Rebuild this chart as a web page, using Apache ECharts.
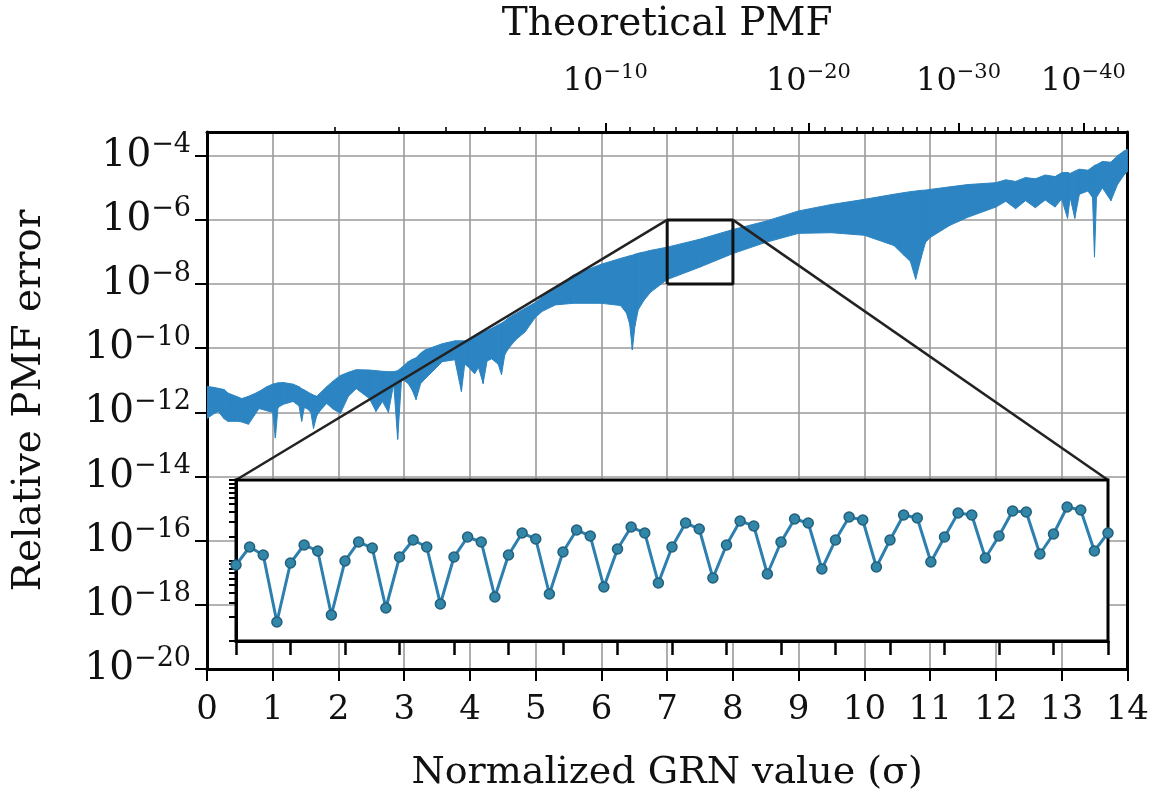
<!DOCTYPE html>
<html><head><meta charset="utf-8">
<script src="https://cdn.jsdelivr.net/npm/echarts@6/dist/echarts.min.js"></script>
<style>html,body{margin:0;padding:0;background:#fff}#c{width:1152px;height:799px}</style>
</head><body><div id="c"></div>
<script>
// ---- data (log10 of relative PMF error) ----
const sigma = [0.00,0.10,0.17,0.26,0.32,0.47,0.53,0.63,0.72,0.79,0.91,1.00,1.04,1.08,1.16,1.31,1.40,1.44,1.48,1.52,1.58,1.62,1.67,1.72,1.82,1.92,2.03,2.15,2.27,2.47,2.57,2.67,2.76,2.84,2.90,2.96,3.06,3.12,3.18,3.25,3.32,3.58,3.77,3.87,3.92,3.97,4.07,4.13,4.20,4.26,4.33,4.43,4.48,4.53,4.59,4.69,4.84,4.99,5.10,5.30,5.57,6.00,6.29,6.38,6.43,6.47,6.51,6.56,6.65,6.75,7.00,7.50,8.00,8.50,9.00,9.50,10.00,10.45,10.60,10.70,10.78,10.86,10.93,11.00,11.30,11.57,12.00,12.15,12.30,12.45,12.60,12.75,12.90,13.00,13.09,13.13,13.20,13.27,13.40,13.47,13.50,13.53,13.62,13.75,13.85,13.95,14.00];
const upperExp = [-11.19,-11.22,-11.25,-11.29,-11.40,-11.52,-11.57,-11.50,-11.42,-11.35,-11.20,-11.12,-11.10,-11.08,-11.07,-11.12,-11.20,-11.26,-11.30,-11.35,-11.42,-11.46,-11.50,-11.40,-11.20,-11.02,-10.85,-10.75,-10.67,-10.68,-10.70,-10.72,-10.73,-10.73,-10.70,-10.60,-10.42,-10.35,-10.30,-10.15,-10.05,-9.86,-9.77,-9.77,-9.77,-9.75,-9.62,-9.56,-9.49,-9.45,-9.38,-9.27,-9.22,-9.15,-9.05,-8.93,-8.75,-8.58,-8.40,-8.15,-7.72,-7.38,-7.20,-7.15,-7.12,-7.10,-7.07,-7.04,-7.00,-6.95,-6.85,-6.60,-6.30,-6.04,-5.72,-5.52,-5.36,-5.20,-5.15,-5.12,-5.10,-5.08,-5.07,-5.05,-4.97,-4.90,-4.84,-4.75,-4.80,-4.68,-4.72,-4.60,-4.65,-4.53,-4.52,-4.55,-4.48,-4.42,-4.45,-4.35,-4.30,-4.28,-4.18,-4.20,-4.00,-3.85,-3.80];
const lowerExp = [-12.19,-12.05,-11.97,-12.20,-12.28,-12.28,-12.30,-12.37,-12.10,-11.88,-11.95,-12.00,-12.80,-11.85,-11.75,-11.66,-11.80,-12.28,-11.85,-11.88,-12.00,-12.50,-12.10,-11.95,-11.72,-11.90,-12.03,-11.50,-11.26,-11.57,-11.97,-11.66,-12.00,-11.10,-12.84,-10.95,-11.10,-11.30,-11.60,-11.10,-10.95,-10.42,-10.36,-11.35,-10.50,-10.57,-10.80,-10.60,-11.10,-10.40,-10.33,-10.50,-10.82,-10.20,-10.00,-9.75,-9.49,-9.05,-8.85,-8.65,-8.60,-8.60,-8.67,-8.90,-9.25,-10.05,-9.30,-8.80,-8.50,-8.25,-7.86,-7.47,-7.05,-6.70,-6.42,-6.40,-6.48,-6.80,-7.10,-7.30,-7.85,-7.20,-6.70,-6.55,-6.17,-5.92,-5.60,-5.42,-5.65,-5.40,-5.62,-5.38,-5.60,-5.35,-5.95,-5.30,-5.95,-5.20,-5.10,-5.30,-7.16,-5.30,-5.00,-5.40,-4.90,-4.60,-4.50];
// inset (zoom of sigma 7..8), one point every 1/64 sigma
const insetStep = 1/64;
const insetValues = [-7.056,-6.832,-6.932,-7.764,-7.031,-6.807,-6.882,-7.677,-7.006,-6.770,-6.845,-7.590,-6.957,-6.745,-6.832,-7.540,-6.957,-6.708,-6.770,-7.453,-6.932,-6.658,-6.733,-7.416,-6.894,-6.621,-6.696,-7.329,-6.857,-6.584,-6.658,-7.280,-6.832,-6.534,-6.609,-7.217,-6.807,-6.509,-6.571,-7.168,-6.770,-6.484,-6.534,-7.106,-6.745,-6.460,-6.497,-7.081,-6.745,-6.435,-6.472,-7.019,-6.708,-6.410,-6.435,-6.969,-6.696,-6.385,-6.398,-6.919,-6.671,-6.335,-6.373,-6.882,-6.658];
const zoomX = [7, 8];
const zoomY = [-8, -6];
// tick labels
const yTicks = [-20,-18,-16,-14,-12,-10,-8,-6,-4];
const pmfMajor = [-10,-20,-30,-40];
const pmfMinor = [-3,-4,-5,-6,-7,-8,-9,-11,-12,-13,-14,-15,-16,-17,-18,-19,-21,-22,-23,-24,-25,-26,-27,-28,-29,-31,-32,-33,-34,-35,-36,-37,-38,-39,-41,-42,-43];

// top-axis scale: position (sigma) of a given theoretical PMF decade
function pmfToSigma(e){ return Math.sqrt(-4.7*e - 10.3); }

const FONT = 'DejaVu Serif';
const BAND = '#2c85c2';
const TXT = '#111';

const insetMinorY = [];
[-8,-7].forEach(n => { for (let k=1;k<=9;k++) insetMinorY.push(n + Math.log10(k)); });
insetMinorY.push(-6);

function supLabel(e){ return '{b|10}{s|\u2212' + Math.abs(e) + '}'; }

const bandRows = sigma.map((s,i)=>[s, upperExp[i], lowerExp[i]]);

function renderBand(params, api){
  const i = params.dataIndex;
  if (i >= bandRows.length - 1) return null;
  const r0 = bandRows[i], r1 = bandRows[i+1];
  const pts = [api.coord([r0[0], r0[1]]), api.coord([r1[0], r1[1]]), api.coord([r1[0], r1[2]]), api.coord([r0[0], r0[2]])];
  return {type:'polygon', shape:{points: pts}, style:{fill: BAND, stroke: BAND, lineWidth: 1}, silent:true};
}

const chart = echarts.init(document.getElementById('c'), null, {renderer:'canvas'});
const option = {
  animation: false,
  backgroundColor: '#fff',
  grid: [
    {left: 207, right: 24, top: 129, bottom: 130},
    {left: 236, top: 480, width: 872, height: 161, show: true, backgroundColor: '#fff', borderColor: '#000', borderWidth: 3, z: 5}
  ],
  xAxis: [
    {type:'value', gridIndex:0, position:'bottom', min:0, max:14, interval:1,
     axisLine:{show:true, onZero:false, lineStyle:{color:'#000', width:3}},
     axisTick:{show:true, inside:false, length:12, lineStyle:{color:'#000', width:2}},
     axisLabel:{show:true, fontFamily:FONT, fontSize:34, color:TXT, margin:24},
     splitLine:{show:true, lineStyle:{color:'#9a9a9a', width:1.6}},
     name:'Normalized GRN value (\u03c3)', nameLocation:'middle', nameGap:85,
     nameTextStyle:{fontFamily:FONT, fontSize:38, color:TXT}},
    {type:'value', gridIndex:0, position:'top', min:0, max:14,
     axisLine:{show:true, onZero:false, lineStyle:{color:'#000', width:3}},
     axisTick:{show:true, inside:false, length:9, customValues: pmfMajor.map(pmfToSigma), lineStyle:{color:'#000', width:2}},
     axisLabel:{show:true, customValues: pmfMajor.map(pmfToSigma), margin:30,
       formatter: v => { let best = pmfMajor[0]; pmfMajor.forEach(e => { if (Math.abs(pmfToSigma(e)-v) < Math.abs(pmfToSigma(best)-v)) best = e; }); return supLabel(best); },
       rich:{ b:{fontFamily:FONT, fontSize:32, color:TXT, lineHeight:40}, s:{fontFamily:FONT, fontSize:21, color:TXT, lineHeight:22, verticalAlign:'top'} }},
     splitLine:{show:false},
     name:'Theoretical PMF', nameLocation:'middle', nameGap:88,
     nameTextStyle:{fontFamily:FONT, fontSize:39, color:TXT}},
    {type:'value', gridIndex:0, position:'top', min:0, max:14,
     axisLine:{show:false},
     axisTick:{show:true, inside:false, length:5, customValues: pmfMinor.map(pmfToSigma), lineStyle:{color:'#000', width:1.6}},
     axisLabel:{show:false}, splitLine:{show:false}},
    {type:'value', gridIndex:1, min:zoomX[0], max:zoomX[1], interval:0.0625, z:6,
     axisLine:{show:true, onZero:false, lineStyle:{color:'#000', width:3}},
     axisTick:{show:true, inside:false, length:14, lineStyle:{color:'#000', width:2.5}},
     axisLabel:{show:false}, splitLine:{show:false}}
  ],
  yAxis: [
    {type:'value', gridIndex:0, position:'left', min:-20, max:-3.26, interval:2,
     axisLine:{show:true, onZero:false, lineStyle:{color:'#000', width:3}},
     axisTick:{show:true, inside:false, length:12, customValues:yTicks, lineStyle:{color:'#000', width:2}},
     axisLabel:{show:true, customValues:yTicks, margin:16, formatter: v => supLabel(v),
       rich:{ b:{fontFamily:FONT, fontSize:39, color:TXT, lineHeight:48}, s:{fontFamily:FONT, fontSize:27, color:TXT, lineHeight:28, verticalAlign:'top'} }},
     splitLine:{show:true, lineStyle:{color:'#9a9a9a', width:1.6}},
     name:'Relative PMF error', nameLocation:'middle', nameGap:158,
     nameTextStyle:{fontFamily:FONT, fontSize:39, color:TXT}},
    {type:'value', gridIndex:0, position:'right', min:-20, max:-3.26,
     axisLine:{show:true, onZero:false, lineStyle:{color:'#000', width:3}},
     axisTick:{show:false}, axisLabel:{show:false}, splitLine:{show:false}},
    {type:'value', gridIndex:1, min:zoomY[0], max:zoomY[1], z:6,
     axisLine:{show:true, onZero:false, lineStyle:{color:'#000', width:3}},
     axisTick:{show:true, inside:false, length:7, customValues:insetMinorY, lineStyle:{color:'#000', width:2}},
     axisLabel:{show:false}, splitLine:{show:false}}
  ],
  series: [
    {name:'band', type:'custom', xAxisIndex:0, yAxisIndex:0, data: bandRows,
     encode:{x:0, y:[1,2]}, renderItem: renderBand, silent:true, z:2, clip:true},
    {name:'zoomBox', type:'line', xAxisIndex:0, yAxisIndex:0, symbol:'none', silent:true,
     data: [[zoomX[0],zoomY[0]],[zoomX[0],zoomY[1]],[zoomX[1],zoomY[1]],[zoomX[1],zoomY[0]],[zoomX[0],zoomY[0]]],
     lineStyle:{color:'#111', width:3}, z:3},
    {name:'inset', type:'line', xAxisIndex:3, yAxisIndex:2,
     data: insetValues.map((v,i)=>[zoomX[0] + i*insetStep, v]),
     symbol:'circle', symbolSize:10,
     lineStyle:{color:'#2c7fae', width:3},
     itemStyle:{color:'#3286a8', borderColor:'#22607c', borderWidth:1.5}, z:7}
  ]
};
chart.setOption(option);

const a0 = chart.convertToPixel({xAxisIndex:0, yAxisIndex:0}, [zoomX[0], zoomY[1]]);
const a1 = chart.convertToPixel({xAxisIndex:0, yAxisIndex:0}, [zoomX[1], zoomY[1]]);
const b0 = chart.convertToPixel({xAxisIndex:3, yAxisIndex:2}, [zoomX[0], zoomY[1]]);
const b1 = chart.convertToPixel({xAxisIndex:3, yAxisIndex:2}, [zoomX[1], zoomY[1]]);
chart.setOption({graphic:[
  {type:'line', z:4, silent:true, shape:{x1:a0[0], y1:a0[1], x2:b0[0], y2:b0[1]}, style:{stroke:'#222', lineWidth:2.5}},
  {type:'line', z:4, silent:true, shape:{x1:a1[0], y1:a1[1], x2:b1[0], y2:b1[1]}, style:{stroke:'#222', lineWidth:2.5}}
]});
</script>
</body></html>
